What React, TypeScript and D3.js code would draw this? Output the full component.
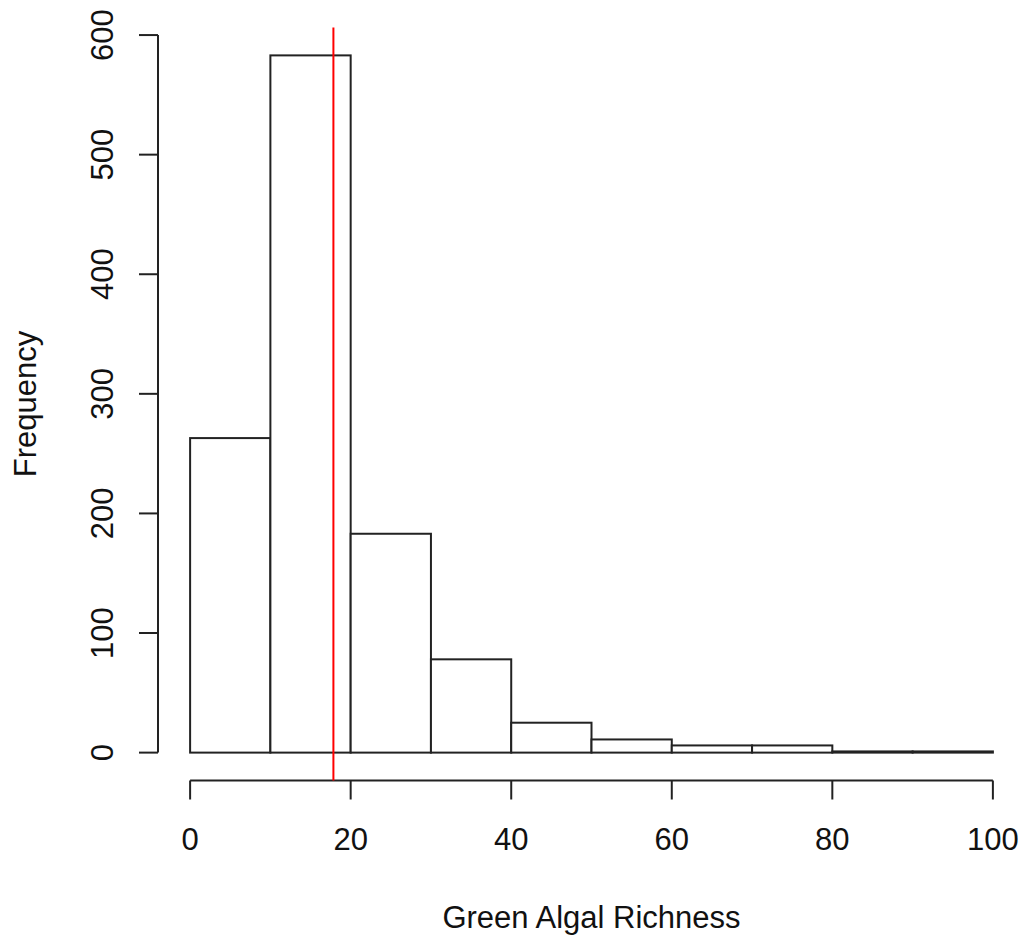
import React from "react";
import * as d3 from "d3";

const breaks = [0, 10, 20, 30, 40, 50, 60, 70, 80, 90, 100];
const counts = [263, 583, 183, 78, 25, 11, 6, 6, 1, 1];
const xTicks = [0, 20, 40, 60, 80, 100];
const yTicks = [0, 100, 200, 300, 400, 500, 600];
const meanLine = 17.85;
const xLabel = "Green Algal Richness";
const yLabel = "Frequency";

const W = 1023;
const H = 935;
const FONT = "'Liberation Sans', Arial, sans-serif";
const FS = 31;

export default function App() {
  const xmin = 0, xmax = 100;
  const ymaxData = d3.max(counts) as number;
  const xPad = (xmax - xmin) * 0.04;
  const yPad = ymaxData * 0.04;
  const x = d3.scaleLinear().domain([xmin - xPad, xmax + xPad]).range([158, 1025]);
  const y = d3.scaleLinear().domain([-yPad, ymaxData + yPad]).range([780.5, 27.5]);
  const axisY = 780.5;
  const axisX = 158;
  const tickLen = 19;
  const stroke = "#222";

  return (
    <svg
      width={W}
      height={H}
      style={{ position: "absolute", left: 0, top: 0, display: "block", background: "#fff" }}
      fontFamily={FONT}
    >
      <rect x={0} y={0} width={W} height={H} fill="#fff" />
      {counts.map((c, i) => (
        <rect
          key={i}
          x={x(breaks[i])}
          y={y(c)}
          width={x(breaks[i + 1]) - x(breaks[i])}
          height={y(0) - y(c)}
          fill="#fff"
          stroke={stroke}
          strokeWidth={2}
        />
      ))}
      {/* x axis */}
      <line x1={x(xTicks[0])} x2={x(xTicks[xTicks.length - 1])} y1={axisY} y2={axisY} stroke={stroke} strokeWidth={2} />
      {xTicks.map((t) => (
        <g key={t}>
          <line x1={x(t)} x2={x(t)} y1={axisY} y2={axisY + tickLen} stroke={stroke} strokeWidth={2} />
          <text x={x(t)} y={850} textAnchor="middle" fontSize={FS} fill="#111">
            {t}
          </text>
        </g>
      ))}
      {/* y axis */}
      <line x1={axisX} x2={axisX} y1={y(yTicks[0])} y2={y(yTicks[yTicks.length - 1])} stroke={stroke} strokeWidth={2} />
      {yTicks.map((t) => (
        <g key={t}>
          <line x1={axisX - tickLen} x2={axisX} y1={y(t)} y2={y(t)} stroke={stroke} strokeWidth={2} />
          <text
            transform={`translate(113,${y(t)}) rotate(-90)`}
            textAnchor="middle"
            fontSize={FS}
            fill="#111"
          >
            {t}
          </text>
        </g>
      ))}
      {/* red reference line */}
      <line x1={x(meanLine)} x2={x(meanLine)} y1={27.5} y2={780.5} stroke="#ff0000" strokeWidth={2} />
      {/* labels */}
      <text x={(x(0) + x(100)) / 2} y={928} textAnchor="middle" fontSize={FS} fill="#111">
        {xLabel}
      </text>
      <text
        transform={`translate(36,${(27.5 + 780.5) / 2}) rotate(-90)`}
        textAnchor="middle"
        fontSize={FS}
        fill="#111"
      >
        {yLabel}
      </text>
    </svg>
  );
}
